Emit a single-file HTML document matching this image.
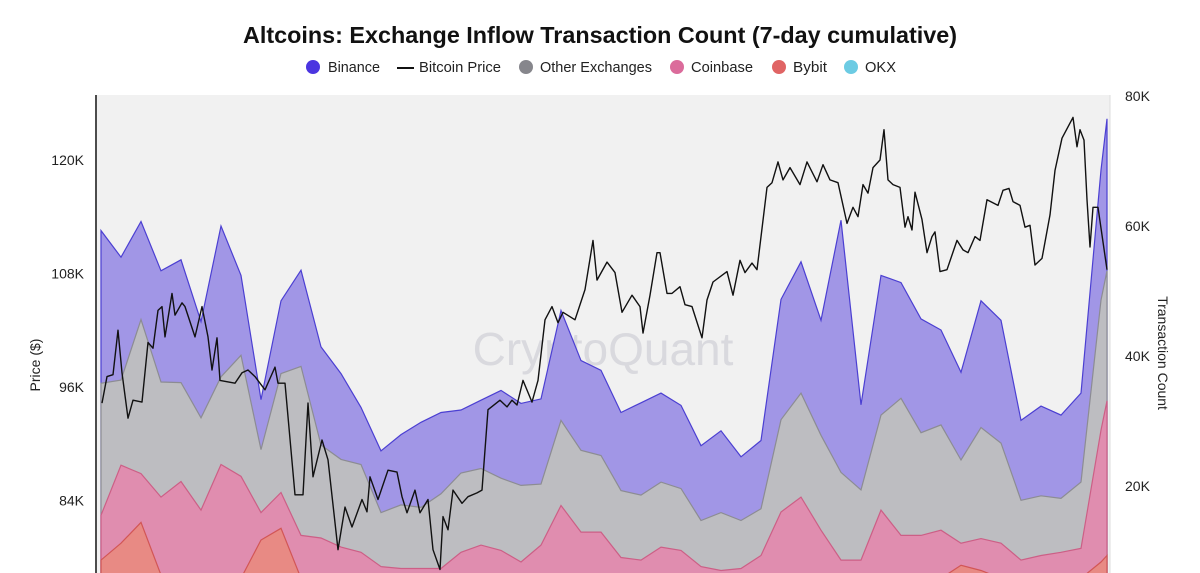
<!DOCTYPE html>
<html><head><meta charset="utf-8"><style>
html,body{margin:0;padding:0;background:#fff;width:1200px;height:573px;overflow:hidden}
svg{display:block;font-family:"Liberation Sans",sans-serif;overflow:hidden}
</style></head><body>
<svg id="chart" width="1200" height="573" viewBox="0 0 1200 573">
<defs><clipPath id="plotclip"><rect x="97" y="90" width="1013" height="483"/></clipPath></defs>
<text x="600" y="43" text-anchor="middle" font-size="23" font-weight="bold" fill="#111" textLength="714" lengthAdjust="spacingAndGlyphs">Altcoins: Exchange Inflow Transaction Count (7-day cumulative)</text>
<g font-size="14.5" fill="#222">
<g><circle cx="313" cy="67" r="7" fill="#4b35e0"/><text x="328" y="72" textLength="52" lengthAdjust="spacingAndGlyphs">Binance</text></g>
<g><line x1="397" y1="68" x2="414" y2="68" stroke="#111" stroke-width="2"/><text x="419" y="72" textLength="82" lengthAdjust="spacingAndGlyphs">Bitcoin Price</text></g>
<g><circle cx="526" cy="67" r="7" fill="#86868c"/><text x="540" y="72" textLength="112" lengthAdjust="spacingAndGlyphs">Other Exchanges</text></g>
<g><circle cx="677" cy="67" r="7" fill="#db6b9b"/><text x="691" y="72" textLength="62" lengthAdjust="spacingAndGlyphs">Coinbase</text></g>
<g><circle cx="779" cy="67" r="7" fill="#e06464"/><text x="793" y="72" textLength="34" lengthAdjust="spacingAndGlyphs">Bybit</text></g>
<g><circle cx="851" cy="67" r="7" fill="#6ccbe3"/><text x="865" y="72" textLength="31" lengthAdjust="spacingAndGlyphs">OKX</text></g>
</g>
<rect x="97" y="95" width="1013" height="478" fill="#f1f1f1"/>
<text x="603" y="365" text-anchor="middle" font-size="46" fill="#d9d9de">CryptoQuant</text>
<g id="areas" clip-path="url(#plotclip)"></g>
<g id="priceg" clip-path="url(#plotclip)"></g>
<line x1="96" y1="95" x2="96" y2="573" stroke="#111" stroke-width="1.5"/>
<line x1="1110" y1="95" x2="1110" y2="573" stroke="#ddd" stroke-width="1"/>
<g id="lticks" font-size="14" fill="#222"></g>
<g id="rticks" font-size="14" fill="#222"></g>
<text transform="translate(40,365) rotate(-90)" text-anchor="middle" font-size="14" fill="#222">Price ($)</text>
<text transform="translate(1158,353) rotate(90)" text-anchor="middle" font-size="14" fill="#222">Transaction Count</text>
</svg>
<script>
const days = [0,20,40,60,80,100,120,140,160,180,200,220,240,260,280,300,320,340,360,380,400,420,440,460,480,500,520,540,560,580,600,620,640,660,680,700,720,740,760,780,800,820,840,860,880,900,920,940,960,980,1000,1006];
const binance = [23.5,18.9,15.1,17.1,18.9,14.8,23.2,12.3,7.7,11.2,14.8,15.1,13.2,8.8,9.5,10.8,13.1,12.5,9.7,10.5,13.5,12.6,13.1,16.9,13.8,13.1,12.0,14.2,13.7,12.8,11.5,12.6,9.8,10.5,18.5,20.2,17.7,38.8,13.1,21.5,17.8,17.5,14.6,13.5,19.5,18.9,12.3,13.8,12.8,13.7,20.0,23.4];
const otherEx = [20.3,13.1,23.7,17.7,15.2,14.2,13.5,18.6,9.7,18.3,26.0,14.3,13.5,13.5,8.3,9.8,9.4,11.5,12.2,11.8,11.1,11.8,9.4,13.1,12.6,11.8,10.3,10.0,10.0,9.5,7.1,8.9,7.4,7.2,14.2,16.0,14.6,13.5,10.8,14.6,21.1,15.8,16.2,12.8,17.1,15.4,9.2,9.2,8.3,10.2,20.0,20.0];
const coinbase = [6.9,12.0,7.5,12.0,14.9,10.5,17.5,15.7,4.2,5.5,6.6,6.2,4.8,4.0,1.8,1.5,1.5,1.5,4.0,5.1,4.3,2.5,5.1,11.2,7.1,7.1,3.2,2.8,4.8,4.3,1.8,1.2,1.5,3.5,10.2,12.5,7.4,2.8,2.8,10.5,6.6,6.6,7.4,3.4,4.9,5.4,2.8,3.5,4.0,4.6,20.3,23.8];
const bybit = [7.1,9.7,12.9,4.8,4.3,4.3,4.3,4.3,10.2,12.0,4.3,4.3,4.3,4.3,4.3,4.3,4.3,4.3,4.3,4.3,4.3,4.3,4.3,4.3,4.3,4.3,4.3,4.3,4.3,4.3,4.3,4.3,4.3,4.3,4.3,4.3,4.3,4.3,4.3,4.3,4.3,4.3,4.3,6.3,5.5,4.3,4.3,4.3,4.3,4.3,6.8,7.8];
const okx = [1.5,1.5,1.5,1.5,1.5,1.5,1.5,1.5,1.5,1.5,1.5,1.5,1.5,1.5,1.5,1.5,1.5,1.5,1.5,1.5,1.5,1.5,1.5,1.5,1.5,1.5,1.5,1.5,1.5,1.5,1.5,1.5,1.5,1.5,1.5,1.5,1.5,1.5,1.5,1.5,1.5,1.5,1.5,1.5,1.5,1.5,1.5,1.5,1.5,1.5,1.5,1.5];
const priceDay = [1,6,12,17,21,27,32,41,47,52,57,61,64,71,74,81,84,94,101,107,111,116,119,134,141,147,154,164,174,177,184,194,202,207,212,221,227,237,244,251,261,266,269,277,287,296,301,306,314,319,327,332,339,342,347,352,361,367,376,381,387,399,406,411,416,422,431,437,444,451,457,462,474,484,492,496,506,514,521,531,539,542,549,556,559,566,571,579,584,591,601,606,612,626,632,639,644,651,656,666,671,677,682,689,699,706,716,722,729,737,746,752,757,762,767,772,779,783,787,792,799,804,807,811,814,821,826,831,834,839,846,856,862,867,874,879,886,897,902,908,912,919,924,929,934,941,949,954,961,972,976,979,983,986,989,992,997,1006];
const price = [94.3,97.1,97.3,102.0,97.5,92.7,94.6,94.4,100.7,100.1,104.1,104.5,101.3,105.9,103.6,104.9,104.5,101.3,104.5,101.3,97.8,101.2,96.7,96.4,97.5,97.8,97.1,95.7,98.1,96.4,96.4,84.6,84.6,94.3,86.5,90.4,88.3,78.8,83.3,81.2,84.1,82.8,86.5,84.1,87.2,87.0,84.4,82.7,85.1,82.7,84.1,78.8,76.7,82.3,80.9,85.1,83.7,84.4,84.8,85.1,93.6,94.6,93.9,94.6,94.1,96.7,94.4,96.7,103.1,104.5,102.8,103.9,103.1,106.3,111.5,107.3,109.2,108.1,103.9,105.7,104.5,101.7,105.7,110.2,110.2,105.9,105.9,106.6,104.7,104.5,101.2,105.2,107.1,108.2,105.7,109.4,108.1,109.1,108.4,117.1,117.6,119.8,117.9,119.2,117.4,119.8,117.7,119.5,117.9,117.6,113.3,115.0,114.0,117.4,116.5,119.2,120.0,123.2,117.9,117.4,117.1,112.9,114.0,112.6,116.6,113.7,110.2,111.9,112.4,108.2,108.4,111.5,110.5,110.2,111.9,111.5,115.8,115.2,116.8,117.0,115.6,115.2,112.9,113.1,108.9,109.6,114.2,118.9,122.3,124.5,121.4,123.2,122.1,115.8,110.8,115.0,115.0,108.4];
const leftTicks = [84,96,108,120];
const rightTicks = [20,40,60,80];

const NS = "http://www.w3.org/2000/svg";
const xS = d => 101 + d;
const yR = v => 616 - v * 6.5;
const yL = p => 160 + (120 - p) * 9.458;

const series = [
  {name:'binance', fill:'#a196e6', stroke:'#4b3fd2'},
  {name:'other-exchanges', fill:'#bdbdc1', stroke:'#8c8c93'},
  {name:'coinbase', fill:'#e08daf', stroke:'#cc5f86'},
  {name:'bybit', fill:'#e88a84', stroke:'#d25656'},
  {name:'okx', fill:'#7ccde3', stroke:'#4fb4d0'}
];
const order = [okx, bybit, coinbase, otherEx, binance];
const cum = [];
let base = days.map(() => 0);
for (let k = 0; k < order.length; k++) {
  base = base.map((b, i) => b + order[k][i]);
  cum.push(base.slice());
}
const areas = document.getElementById('areas');
for (let s = 0; s < series.length; s++) {
  const top = cum[order.length - 1 - s];
  let d = 'M' + xS(days[0]) + ',616';
  days.forEach((dd, i) => { d += ' L' + xS(dd).toFixed(1) + ',' + yR(top[i]).toFixed(1); });
  d += ' L' + xS(days[days.length - 1]) + ',616 Z';
  const p = document.createElementNS(NS, 'path');
  p.setAttribute('d', d);
  p.setAttribute('fill', series[s].fill);
  p.setAttribute('stroke', series[s].stroke);
  p.setAttribute('stroke-width', '1.2');
  
  
  areas.appendChild(p);
}
const pg = document.getElementById('priceg');
let pd = '';
priceDay.forEach((dd, i) => { pd += (i ? ' L' : 'M') + xS(dd).toFixed(1) + ',' + yL(price[i]).toFixed(1); });
const pl = document.createElementNS(NS, 'path');
pl.setAttribute('d', pd);
pl.setAttribute('fill', 'none');
pl.setAttribute('stroke', '#111');
pl.setAttribute('stroke-width', '1.4');
pl.setAttribute('stroke-linejoin', 'round');


pg.appendChild(pl);

const lt = document.getElementById('lticks');
leftTicks.forEach(v => {
  const t = document.createElementNS(NS, 'text');
  t.setAttribute('x', 84);
  t.setAttribute('y', yL(v) + 5);
  t.setAttribute('text-anchor', 'end');
  t.textContent = v + 'K';
  
  
  lt.appendChild(t);
});
const rt = document.getElementById('rticks');
rightTicks.forEach(v => {
  const t = document.createElementNS(NS, 'text');
  t.setAttribute('x', 1125);
  t.setAttribute('y', yR(v) + 5);
  t.textContent = v + 'K';
  
  
  rt.appendChild(t);
});
</script>
</body></html>
